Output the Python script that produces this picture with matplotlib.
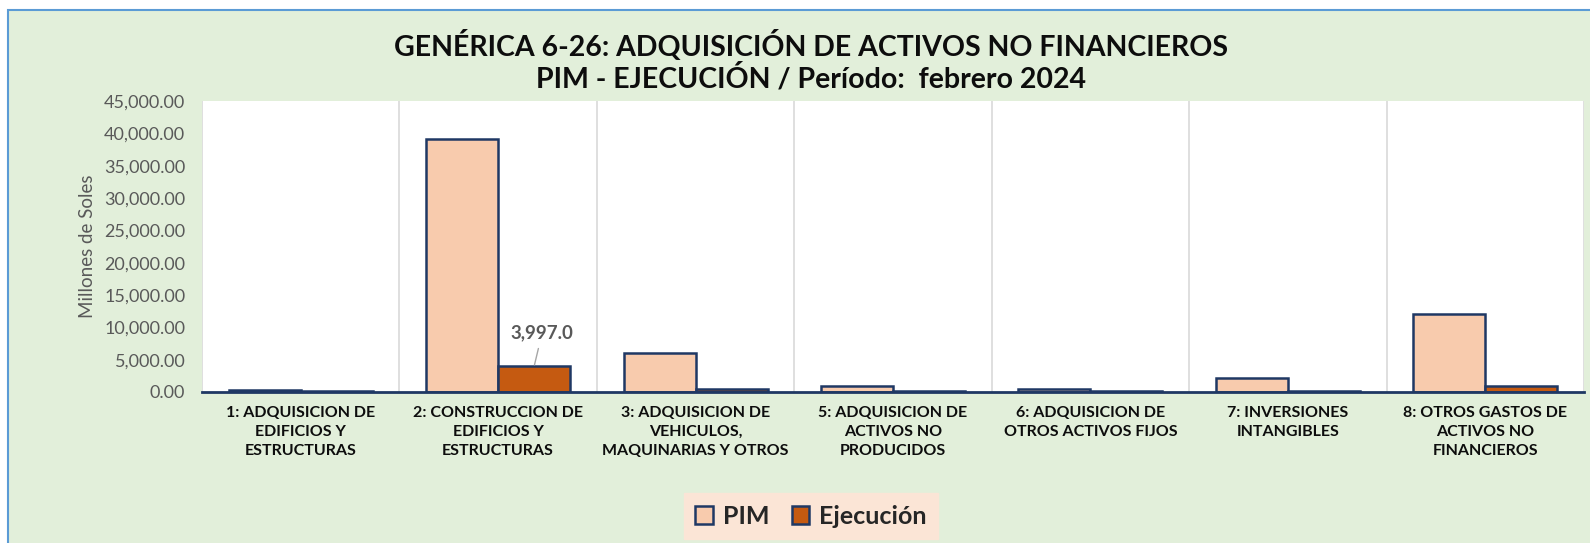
import matplotlib.pyplot as plt
from matplotlib.patches import Rectangle
import numpy as np

# data (millones de soles)
categorias = [
    "1: ADQUISICION DE\nEDIFICIOS Y\nESTRUCTURAS",
    "2: CONSTRUCCION DE\nEDIFICIOS Y\nESTRUCTURAS",
    "3: ADQUISICION DE\nVEHICULOS,\nMAQUINARIAS Y OTROS",
    "5: ADQUISICION DE\nACTIVOS NO\nPRODUCIDOS",
    "6: ADQUISICION DE\nOTROS ACTIVOS FIJOS",
    "7: INVERSIONES\nINTANGIBLES",
    "8: OTROS GASTOS DE\nACTIVOS NO\nFINANCIEROS",
]
pim = [300, 39050, 6000, 900, 400, 2150, 12050]
ejecucion = [200, 3997.0, 450, 150, 150, 150, 950]
yticks = [0, 5000, 10000, 15000, 20000, 25000, 30000, 35000, 40000, 45000]

W, H = 1590, 543
fig = plt.figure(figsize=(W / 100, H / 100), dpi=100)
fig.patch.set_facecolor("white")

# green chart area with blue border (top and left visible)
bg = Rectangle((8 / W, -0.01), 1.0, 1 - 10 / H + 0.01, transform=fig.transFigure,
               facecolor="#E2EFDA", edgecolor="#5B9BD5", linewidth=1.5, zorder=-5)
fig.patches.append(bg)

ax = fig.add_axes([202 / W, 1 - 392 / H, (1584 - 202) / W, (392 - 101) / H])
ax.set_facecolor("white")

x = np.arange(len(categorias))
w = 0.365
navy = "#1F3864"
ax.bar(x - w / 2, pim, w, color="#F8CBAD", edgecolor=navy, linewidth=1.8, label="PIM", zorder=3)
ax.bar(x + w / 2, ejecucion, w, color="#C55A11", edgecolor=navy, linewidth=1.8, label="Ejecución", zorder=3)

ax.set_xlim(-0.5, len(categorias) - 0.5)
ax.set_ylim(0, 45000)
ax.set_yticks(yticks)
ax.set_yticklabels([f"{v:,.2f}" for v in yticks], fontsize=13, color="#595959", family="Lato")
ax.set_xticks(x)
ax.set_xticklabels(categorias, fontsize=11.5, fontweight="bold", color="#0D0D0D", family="Lato",
                   linespacing=1.45)
ax.tick_params(axis="both", length=0)
ax.tick_params(axis="x", pad=10)
ax.tick_params(axis="y", pad=12)

# category gridlines
for b in np.arange(-0.5, len(categorias), 1.0):
    ax.axvline(b, color="#D9D9D9", linewidth=1.2, zorder=1)

for s in ["top", "right", "left"]:
    ax.spines[s].set_visible(False)
ax.spines["bottom"].set_color(navy)
ax.spines["bottom"].set_linewidth(2)
ax.spines["bottom"].set_zorder(4)

ax.set_ylabel("Millones de Soles", fontsize=13.5, color="#595959", family="Lato", labelpad=6)

# data label with leader line
i = 1
ax.annotate(f"{ejecucion[i]:,.1f}", xy=(x[i] + w / 2, ejecucion[i]),
            xytext=(x[i] + w / 2 + 0.04, 9100),
            ha="center", va="center", fontsize=13.5, fontweight="bold", color="#595959", family="Lato",
            arrowprops=dict(arrowstyle="-", color="#A6A6A6", linewidth=1, shrinkA=3, shrinkB=1))

fig.text(811 / W, 1 - 46 / H, "GENÉRICA 6-26: ADQUISICIÓN DE ACTIVOS NO FINANCIEROS",
         ha="center", va="center", fontsize=20.5, fontweight="bold", color="#0D0D0D", family="Lato")
fig.text(811 / W, 1 - 78 / H, "PIM - EJECUCIÓN / Período:  febrero 2024",
         ha="center", va="center", fontsize=20.5, fontweight="bold", color="#0D0D0D", family="Lato")

leg = fig.legend(loc="center", bbox_to_anchor=(811 / W, 1 - 516 / H), ncol=2, frameon=True,
                 fancybox=False, facecolor="#FBE5D6", edgecolor="#FBE5D6", framealpha=1,
                 prop={"family": "Lato", "weight": "bold", "size": 18},
                 handlelength=0.7, handleheight=0.7, handletextpad=0.4, columnspacing=0.9,
                 borderpad=0.45)
for t in leg.get_texts():
    t.set_color("#262626")

fig.savefig("out.png", dpi=100)
